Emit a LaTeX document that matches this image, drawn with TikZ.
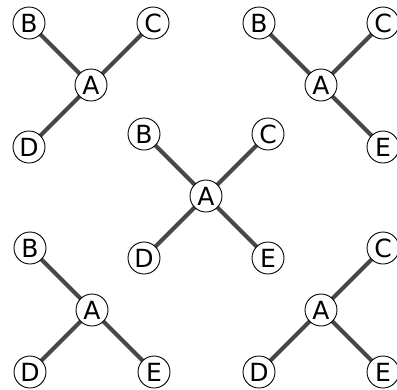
\documentclass[tikz,border=0pt]{standalone}
\usepackage{fontspec}
\setmainfont{DejaVu Sans}
\begin{document}
\begin{tikzpicture}[x=1pt,y=-1pt,
  vtx/.style={circle,draw=black,line width=0.9pt,fill=white,minimum size=32pt,inner sep=0pt,font=\fontsize{25}{25}\selectfont},
  edge/.style={draw=black!72,line width=4pt}]
\useasboundingbox (0,0) rectangle (397,389);
\newcommand{\graphat}[6]{%
  % #1,#2 = A centre; #3..#6 = show B,C,D,E (1/0)
  \begin{scope}[shift={(#1,#2)}]
    \node[vtx] (#1A#2) at (0,0) {A};
    \ifnum#3=1 \node[vtx] (#1B#2) at (-62,-62) {B}; \begin{pgfonlayer}{bg}\draw[edge] (#1A#2.center) -- (#1B#2.center);\end{pgfonlayer}\fi
    \ifnum#4=1 \node[vtx] (#1C#2) at (62,-62) {C}; \begin{pgfonlayer}{bg}\draw[edge] (#1A#2.center) -- (#1C#2.center);\end{pgfonlayer}\fi
    \ifnum#5=1 \node[vtx] (#1D#2) at (-62,62) {D}; \begin{pgfonlayer}{bg}\draw[edge] (#1A#2.center) -- (#1D#2.center);\end{pgfonlayer}\fi
    \ifnum#6=1 \node[vtx] (#1E#2) at (62,62) {E}; \begin{pgfonlayer}{bg}\draw[edge] (#1A#2.center) -- (#1E#2.center);\end{pgfonlayer}\fi
  \end{scope}}
\pgfdeclarelayer{bg}
\pgfsetlayers{bg,main}
\graphat{91}{85}{1}{1}{1}{0}
\graphat{321}{85}{1}{1}{0}{1}
\graphat{206}{196}{1}{1}{1}{1}
\graphat{92}{310}{1}{0}{1}{1}
\graphat{321}{310}{0}{1}{1}{1}
\end{tikzpicture}
\end{document}
